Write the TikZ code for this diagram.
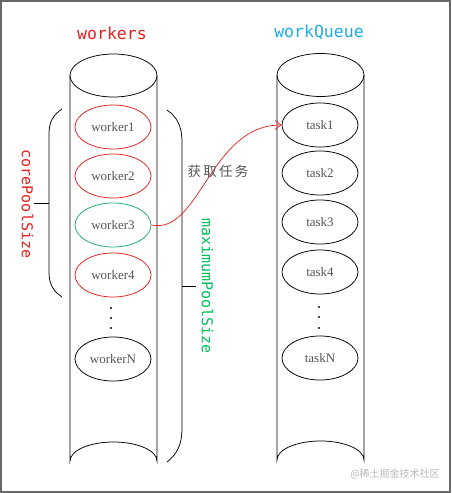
\documentclass[tikz,border=0pt]{standalone}
\usepackage{fontspec}
\setmainfont{Liberation Serif}
\setmonofont{DejaVu Sans Mono}
\newfontfamily\cjkfont{Noto Sans CJK SC}
\usetikzlibrary{arrows.meta,shapes.geometric}
\definecolor{poolred}{RGB}{232,30,30}
\definecolor{queueblue}{RGB}{30,172,230}
\definecolor{pickgreen}{RGB}{30,170,105}
\definecolor{sizegreen}{RGB}{0,190,90}
\definecolor{labgray}{RGB}{85,85,85}
\definecolor{framegray}{RGB}{105,105,105}

\begin{document}
\begin{tikzpicture}[x=1pt,y=-1pt,
    line width=0.75pt,
    item/.style={ellipse,draw,minimum width=76pt,minimum height=44pt,inner sep=0pt,
        text=labgray,font=\fontsize{13}{15}\selectfont},
    busy/.style={item,draw=poolred},
    title/.style={font=\ttfamily\fontsize{16.5}{18}\selectfont},
    side/.style={font=\ttfamily\fontsize{15}{17}\selectfont,rotate=-90},
    fetch/.style={-{Straight Barb[length=6pt,width=9pt]},draw=poolred,line width=0.7pt}
]
\useasboundingbox (0,0) rectangle (451,493);
\draw[framegray,line width=2pt] (1,1) rectangle (450,492);

% titles
\node[title,text=poolred] (wtitle) at (112,33) {workers};
\node[title,text=queueblue] (qtitle) at (319,32) {workQueue};

% the two cylinders
\draw (113.5,75.5) ellipse [x radius=43.5,y radius=21.5];
\draw (70,75.5) -- (70,461) arc[start angle=180,end angle=360,x radius=43.5,y radius=19] -- (157,75.5);
\draw (320.5,75) ellipse [x radius=43.5,y radius=21.5];
\draw (277,75) -- (277,460) arc[start angle=180,end angle=360,x radius=43.5,y radius=19] -- (364,75);

% workers
\node[busy] (w1) at (113,127) {worker1};
\node[busy] (w2) at (113,176) {worker2};
\node[item,draw=pickgreen] (w3) at (113,225) {worker3};
\node[busy] (w4) at (113,275) {worker4};
\node[item] (wn) at (113,359) {workerN};
\foreach \y in {308,318,328} \fill (111,\y) circle (1.2);

% tasks
\node[item] (t1) at (320,125) {task1};
\node[item] (t2) at (320,173) {task2};
\node[item] (t3) at (320,222) {task3};
\node[item] (t4) at (320,272) {task4};
\node[item] (tn) at (320,358) {taskN};
\foreach \y in {307,317,328} \fill (319,\y) circle (1.2);

% braces
\draw (62,109) .. controls (53,115) and (49,122) .. (49,134) -- (49,272)
    .. controls (49,284) and (53,291) .. (62,297);
\draw (49,203) -- (34,203);
\node[side,text=poolred] (core) at (27.5,204) {corePoolSize};

\draw (167,110) .. controls (177,117) and (182,126) .. (182,142) -- (182,428)
    .. controls (182,445) and (177,454) .. (167,462);
\draw (182,286) -- (196,286);
\node[side,text=sizegreen] (maxsize) at (207.5,286) {maximumPoolSize};

% worker3 takes a task
\draw[fetch] (w3.east) .. controls (200,235) and (210,125) .. (t1.west);
\node[text=labgray,font=\cjkfont\fontsize{13.5}{15}\selectfont] (take) at (218,171) {获\,取\,任\,务};

\node[text=black!28,font=\cjkfont\fontsize{10}{12}\selectfont] (mark) at (395,474) {@稀土掘金技术社区};
\end{tikzpicture}
\end{document}
